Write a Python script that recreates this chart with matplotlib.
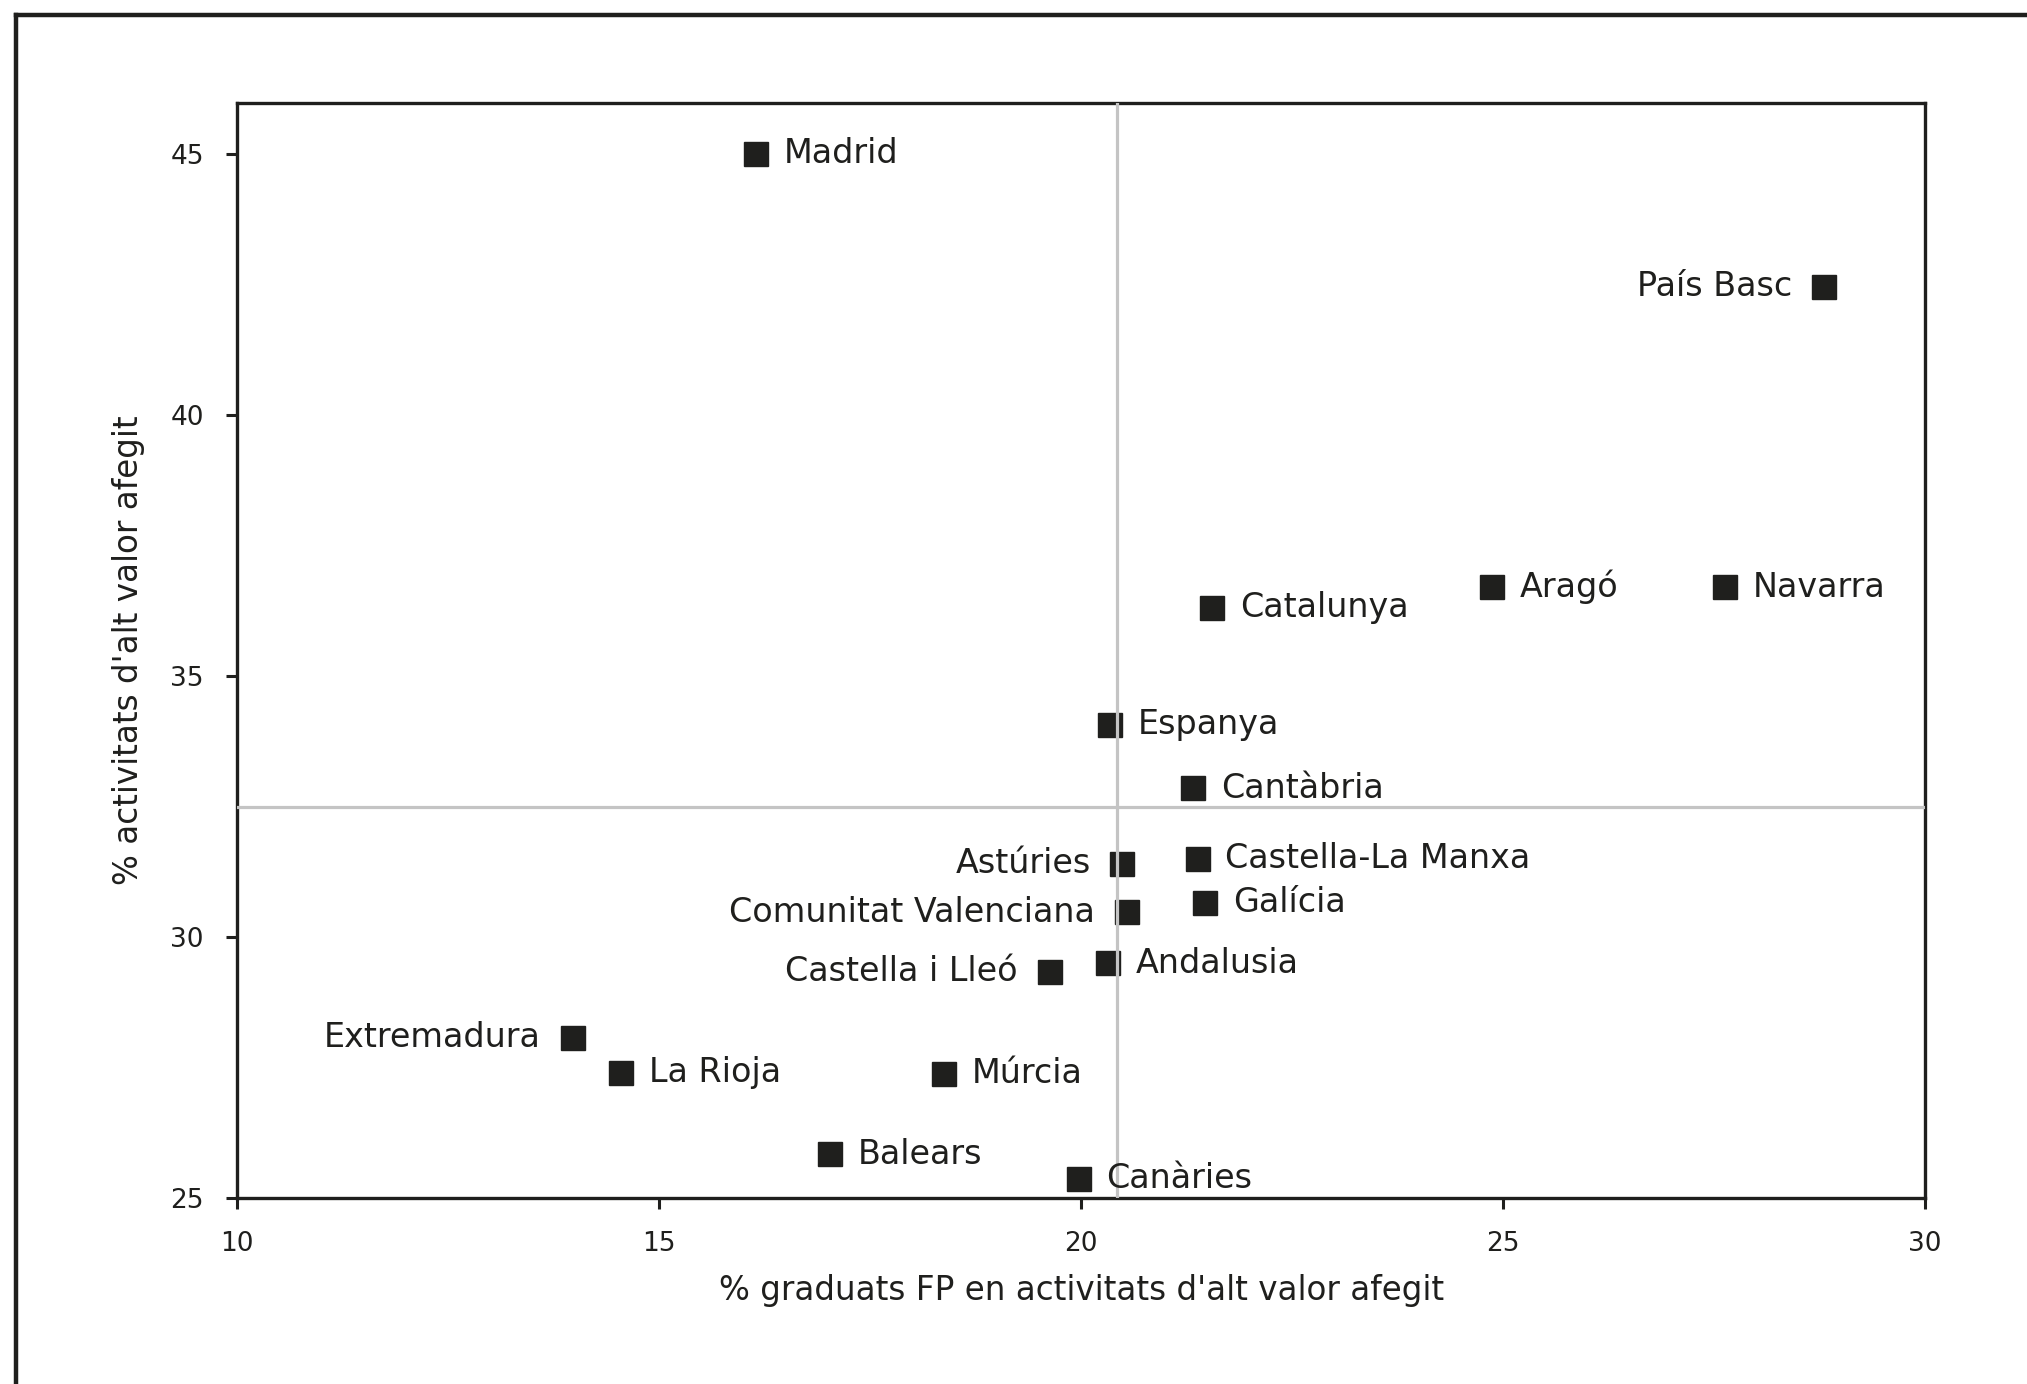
import matplotlib
matplotlib.use("Agg")
import matplotlib.pyplot as plt
from matplotlib.lines import Line2D

plt.rcParams['font.family'] = ['DejaVu Sans']

# regions: % FP graduates in high value-added activities (x), % activities of high value added (y)
regions = ['Madrid', 'País Basc', 'Catalunya', 'Aragó', 'Navarra', 'Espanya',
           'Cantàbria', 'Astúries', 'Castella-La Manxa', 'Comunitat Valenciana',
           'Galícia', 'Castella i Lleó', 'Andalusia', 'Extremadura', 'La Rioja',
           'Múrcia', 'Balears', 'Canàries']
x_fp = [16.15, 28.8, 21.55, 24.87, 27.63, 20.34, 21.33, 20.49, 21.38, 20.54,
        21.47, 19.63, 20.32, 13.98, 14.55, 18.38, 17.03, 19.97]
y_act = [45.0, 42.45, 36.3, 36.7, 36.7, 34.06, 32.85, 31.4, 31.5, 30.47,
         30.65, 29.33, 29.5, 28.07, 27.4, 27.38, 25.84, 25.37]
left_labels = ['País Basc', 'Astúries', 'Comunitat Valenciana', 'Castella i Lleó', 'Extremadura']

x_mean = 20.43
y_mean = 32.48

xticks = [10, 15, 20, 25, 30]
yticks = [25, 30, 35, 40, 45]

fig = plt.figure(figsize=(20.27, 13.84), dpi=100)
ax = fig.add_axes([0.117, 0.1344, 0.8327, 0.7912])

# outer frame (only top and left edges visible)
fig.add_artist(Line2D([0.0077, 0.0077], [0.989, -0.1], color='#1f1f1d', lw=3.2, transform=fig.transFigure))
fig.add_artist(Line2D([0.0077, 1.1], [0.989, 0.989], color='#1f1f1d', lw=3.2, transform=fig.transFigure))

ax.plot(x_fp, y_act, 's', color='#1f1f1d', markersize=17, zorder=2)
ax.axvline(x_mean, color='#c4c4c4', lw=2.3, zorder=3)
ax.axhline(y_mean, color='#c4c4c4', lw=2.3, zorder=3)

for name, xv, yv in zip(regions, x_fp, y_act):
    if name in left_labels:
        ax.annotate(name, (xv, yv), xytext=(-23, 0), textcoords='offset points',
                    ha='right', va='center', fontsize=24, color='#1f1f1d', zorder=4)
    else:
        ax.annotate(name, (xv, yv), xytext=(20, 0), textcoords='offset points',
                    ha='left', va='center', fontsize=24, color='#1f1f1d', zorder=4)

ax.set_xlim(10, 30)
ax.set_ylim(25, 45.97)
ax.set_xticks(xticks)
ax.set_yticks(yticks)
ax.tick_params(direction='out', length=8, width=2.2, labelsize=19, colors='#1f1f1d', pad=16)
for s in ax.spines.values():
    s.set_linewidth(2.4)
    s.set_color('#1f1f1d')

ax.set_xlabel("% graduats FP en activitats d'alt valor afegit", fontsize=23.5, color='#1f1f1d', labelpad=12)
ax.set_ylabel("% activitats d'alt valor afegit", fontsize=23.5, color='#1f1f1d', labelpad=18)

fig.savefig('out.png', dpi=100)
